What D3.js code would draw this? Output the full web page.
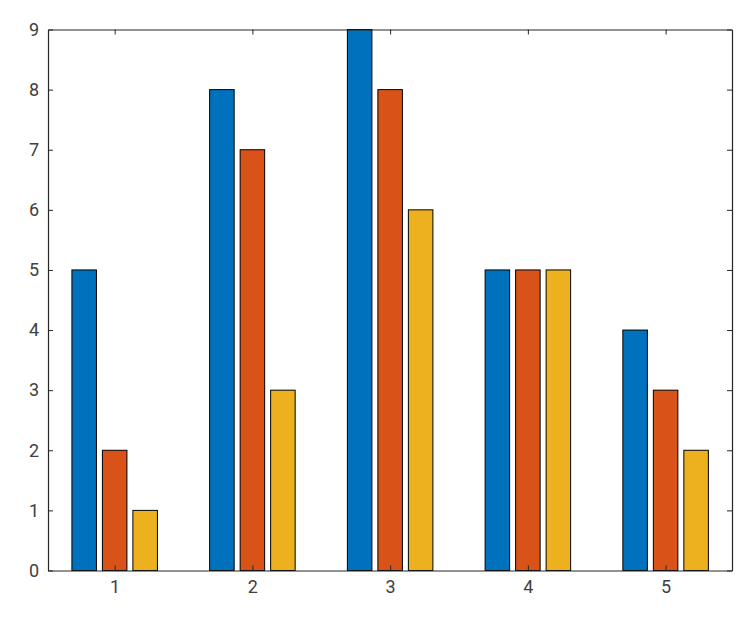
<!DOCTYPE html>
<html><head><meta charset="utf-8">
<script src="https://cdn.jsdelivr.net/npm/d3@7"></script>
<style>body{margin:0;background:#fff;}svg{display:block;}</style>
</head><body>
<script>
const categories = [1, 2, 3, 4, 5];
const series1 = [5, 8, 9, 5, 4];
const series2 = [2, 7, 8, 5, 3];
const series3 = [1, 3, 6, 5, 2];
const yTicks = [0, 1, 2, 3, 4, 5, 6, 7, 8, 9];
const colors = ["#0072BD", "#D95319", "#EDB120"];
const seriesList = [series1, series2, series3];

const W = 744, H = 619;
const L = 48, R = 732, T = 29.5, B = 570.5;
const svg = d3.select("body").append("svg").attr("width", W).attr("height", H);
const x = d3.scaleLinear().domain([0.516, 5.482]).range([L, R]);
const y = d3.scaleLinear().domain([0, 9]).range([B, T]);
const offset = 0.2214, bw = 0.178;

seriesList.forEach((s, si) => {
  svg.append("g").selectAll("rect").data(s).join("rect")
    .attr("x", (d, i) => x(categories[i] + (si - 1) * offset - bw / 2))
    .attr("width", x(bw) - x(0))
    .attr("y", d => y(d))
    .attr("height", d => y(0) - y(d))
    .attr("fill", colors[si])
    .attr("stroke", "#000").attr("stroke-width", 1);
});

const axColor = "#262626", txtColor = "#404040";
const font = "Roboto, 'Liberation Sans', Arial, sans-serif";
const gx = svg.append("g").attr("transform", `translate(0,${B})`)
  .call(d3.axisBottom(x).tickValues(categories).tickFormat(d3.format("d")).tickSizeInner(-5).tickSizeOuter(0).tickPadding(10));
const gy = svg.append("g").attr("transform", `translate(${L},0)`)
  .call(d3.axisLeft(y).tickValues(yTicks).tickFormat(d3.format("d")).tickSizeInner(-5).tickSizeOuter(0).tickPadding(9));
const gxt = svg.append("g").attr("transform", `translate(0,${T})`)
  .call(d3.axisTop(x).tickValues(categories).tickFormat("").tickSizeInner(-5).tickSizeOuter(0));
const gyr = svg.append("g").attr("transform", `translate(${R},0)`)
  .call(d3.axisRight(y).tickValues(yTicks).tickFormat("").tickSizeInner(-5).tickSizeOuter(0));
[gx, gy, gxt, gyr].forEach(g => {
  g.selectAll("path").attr("stroke", axColor).attr("stroke-width", 1.2);
  g.selectAll("line").attr("stroke", axColor).attr("stroke-width", 1);
  g.selectAll("text").attr("fill", txtColor).style("font-family", font).style("font-size", "18px");
});
</script>
</body></html>
